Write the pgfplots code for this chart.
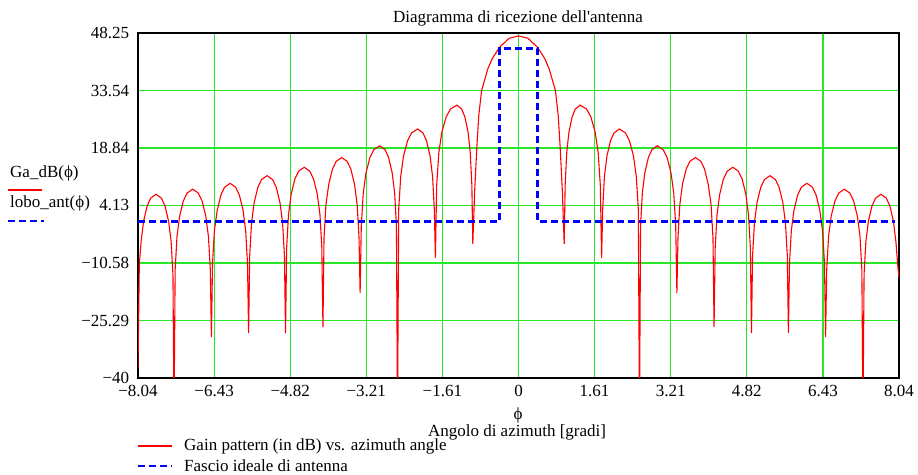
\documentclass[border=0pt]{standalone}
\usepackage{fontspec}
\setmainfont{Liberation Serif}
\usepackage{pgfplots}
\pgfplotsset{compat=1.18}
\definecolor{gridgreen}{RGB}{40,230,40}
\definecolor{curvered}{RGB}{255,0,0}
\definecolor{beamblue}{RGB}{0,0,255}

\begin{document}
\fontsize{17}{20}\selectfont
\begin{tikzpicture}[x=1pt,y=1pt]
\path[use as bounding box] (0,0) rectangle (918,474);
\begin{axis}[
  scale only axis, width=761pt, height=345pt,
  at={(138pt,96pt)}, anchor=south west,
  xmin=-8.0357, xmax=8.0357, ymin=-40, ymax=48.25,
  xtick={-8.0357,-6.4286,-4.8214,-3.2143,-1.6071,0,1.6071,3.2143,4.8214,6.4286,8.0357},
  xticklabels={−8.04,−6.43,−4.82,−3.21,−1.61,0,1.61,3.21,4.82,6.43,8.04},
  ytick={-40,-25.29,-10.58,4.13,18.84,33.54,48.25},
  yticklabels={−40,−25.29,−10.58,4.13,18.84,33.54,48.25},
  grid=major, major grid style={gridgreen, line width=1.2pt},
  axis line style={black, line width=1.2pt},
  major tick length=0pt,
  tick label style={font=\fontsize{17}{20}\selectfont, inner sep=1pt},
  xticklabel style={anchor=north, yshift=-5.7pt},
  yticklabel style={anchor=east, xshift=-7.7pt},
]
% diagramma di guadagno (dB)
\addplot[curvered, line width=1.1pt] coordinates {
(-8.0357,-37.4)
(-8.008,-11) (-7.970,-5.1) (-7.918,0.1) (-7.843,4.0) (-7.768,6.0) (-7.655,7.0) (-7.541,6.0) (-7.465,4.0) (-7.389,0.1) (-7.336,-5.1) (-7.298,-13.5) (-7.275,-50)
(-7.251,-12.2) (-7.212,-3.8) (-7.156,1.4) (-7.078,5.3) (-6.999,7.3) (-6.88,8.3) (-6.762,7.3) (-6.683,5.3) (-6.604,1.4) (-6.548,-3.8) (-6.509,-12.2) (-6.485,-29.5)
(-6.462,-10.7) (-6.422,-2.3) (-6.363,2.9) (-6.285,6.8) (-6.207,8.8) (-6.09,9.8) (-5.973,8.8) (-5.895,6.8) (-5.817,2.9) (-5.762,-2.3) (-5.723,-10.7) (-5.70,-28.5)
(-5.677,-8.75) (-5.638,-0.35) (-5.583,4.85) (-5.505,8.75) (-5.427,10.75) (-5.31,11.75) (-5.193,10.75) (-5.115,8.75) (-5.037,4.85) (-4.982,-0.35) (-4.943,-8.75) (-4.92,-28.5)
(-4.896,-6.6) (-4.857,1.8) (-4.801,7.0) (-4.723,10.9) (-4.643,12.9) (-4.525,13.9) (-4.407,12.9) (-4.328,10.9) (-4.249,7.0) (-4.193,1.8) (-4.154,-6.6) (-4.13,-27)
(-4.107,-4.1) (-4.067,4.3) (-4.008,9.5) (-3.93,13.4) (-3.852,15.4) (-3.735,16.4) (-3.618,15.4) (-3.54,13.4) (-3.462,9.5) (-3.407,4.3) (-3.368,-4.1) (-3.345,-18.3)
(-3.32,-1.1) (-3.279,7.3) (-3.22,12.5) (-3.138,16.4) (-3.055,18.4) (-2.93,19.4) (-2.818,18.4) (-2.743,16.4) (-2.668,12.5) (-2.615,7.3) (-2.578,-1.1) (-2.555,-50)
(-2.530,3.2) (-2.487,11.6) (-2.428,16.8) (-2.343,20.7) (-2.258,22.7) (-2.13,23.7) (-2.018,22.7) (-1.943,20.7) (-1.868,16.8) (-1.815,11.6) (-1.778,3.2) (-1.755,-9.3)
(-1.728,9.3) (-1.682,17.7) (-1.619,22.9) (-1.528,26.8) (-1.437,28.8) (-1.30,29.8) (-1.20,28.8) (-1.133,26.8) (-1.065,22.9) (-1.019,17.7) (-0.985,9.3) (-0.965,-5.7)
(-0.925,8) (-0.88,19) (-0.84,27) (-0.78,33.5) (-0.65,39) (-0.55,41.8) (-0.40,44.6) (-0.2,46.9) (0,47.5) (0.2,46.9) (0.40,44.6) (0.55,41.8) (0.65,39) (0.78,33.5) (0.84,27) (0.88,19) (0.925,8) (0.965,-5.7)
(0.985,9.3) (1.019,17.7) (1.065,22.9) (1.133,26.8) (1.20,28.8) (1.30,29.8) (1.437,28.8) (1.528,26.8) (1.619,22.9) (1.682,17.7) (1.728,9.3) (1.755,-9.3)
(1.778,3.2) (1.815,11.6) (1.868,16.8) (1.943,20.7) (2.018,22.7) (2.13,23.7) (2.258,22.7) (2.343,20.7) (2.428,16.8) (2.487,11.6) (2.530,3.2) (2.555,-50)
(2.578,-1.1) (2.615,7.3) (2.668,12.5) (2.743,16.4) (2.818,18.4) (2.93,19.4) (3.055,18.4) (3.138,16.4) (3.22,12.5) (3.279,7.3) (3.32,-1.1) (3.345,-18.3)
(3.368,-4.1) (3.407,4.3) (3.462,9.5) (3.54,13.4) (3.618,15.4) (3.735,16.4) (3.852,15.4) (3.93,13.4) (4.008,9.5) (4.067,4.3) (4.107,-4.1) (4.13,-27)
(4.154,-6.6) (4.193,1.8) (4.249,7.0) (4.328,10.9) (4.407,12.9) (4.525,13.9) (4.643,12.9) (4.723,10.9) (4.801,7.0) (4.857,1.8) (4.896,-6.6) (4.92,-28.5)
(4.943,-8.75) (4.982,-0.35) (5.037,4.85) (5.115,8.75) (5.193,10.75) (5.31,11.75) (5.427,10.75) (5.505,8.75) (5.583,4.85) (5.638,-0.35) (5.677,-8.75) (5.70,-28.5)
(5.723,-10.7) (5.762,-2.3) (5.817,2.9) (5.895,6.8) (5.973,8.8) (6.09,9.8) (6.207,8.8) (6.285,6.8) (6.363,2.9) (6.422,-2.3) (6.462,-10.7) (6.485,-29.5)
(6.509,-12.2) (6.548,-3.8) (6.604,1.4) (6.683,5.3) (6.762,7.3) (6.88,8.3) (6.999,7.3) (7.078,5.3) (7.156,1.4) (7.212,-3.8) (7.251,-12.2) (7.275,-50)
(7.298,-13.5) (7.336,-5.1) (7.389,0.1) (7.465,4.0) (7.541,6.0) (7.655,7.0) (7.768,6.0) (7.843,4.0) (7.918,0.1) (7.970,-5.1) (8.008,-11) (8.0357,-14.4)
};
% fascio ideale
\addplot[beamblue, line width=2.4pt, dash pattern=on 7pt off 4pt] coordinates {
(-8.0357,0) (-0.40,0) (-0.40,44.3) (0.40,44.3) (0.40,0) (7.95,0)
};
\end{axis}
\node at (518,456) {Diagramma di ricezione dell\textquotesingle antenna};
\node[inner sep=0pt] at (518,59) {ϕ};
\node[inner sep=0pt] at (517,42) {Angolo di azimuth [gradi]};
\node[anchor=west, inner sep=0pt] at (10,301) {Ga\_dB(ϕ)};
\draw[curvered, line width=1.1pt] (8,284) -- (42,284);
\node[anchor=west, inner sep=0pt] at (10,271) {lobo\_ant(ϕ)};
\draw[beamblue, line width=2.4pt, dash pattern=on 7pt off 4pt] (8,253) -- (44,253);
\draw[curvered, line width=1.1pt] (138,28) -- (172,28);
\node[anchor=west, inner sep=0pt] at (184,28) {Gain pattern (in dB) vs. azimuth angle};
\draw[beamblue, line width=2.4pt, dash pattern=on 7pt off 4pt] (138,8) -- (172,8);
\node[anchor=west, inner sep=0pt] at (184,8) {Fascio ideale di antenna};
\end{tikzpicture}
\end{document}
